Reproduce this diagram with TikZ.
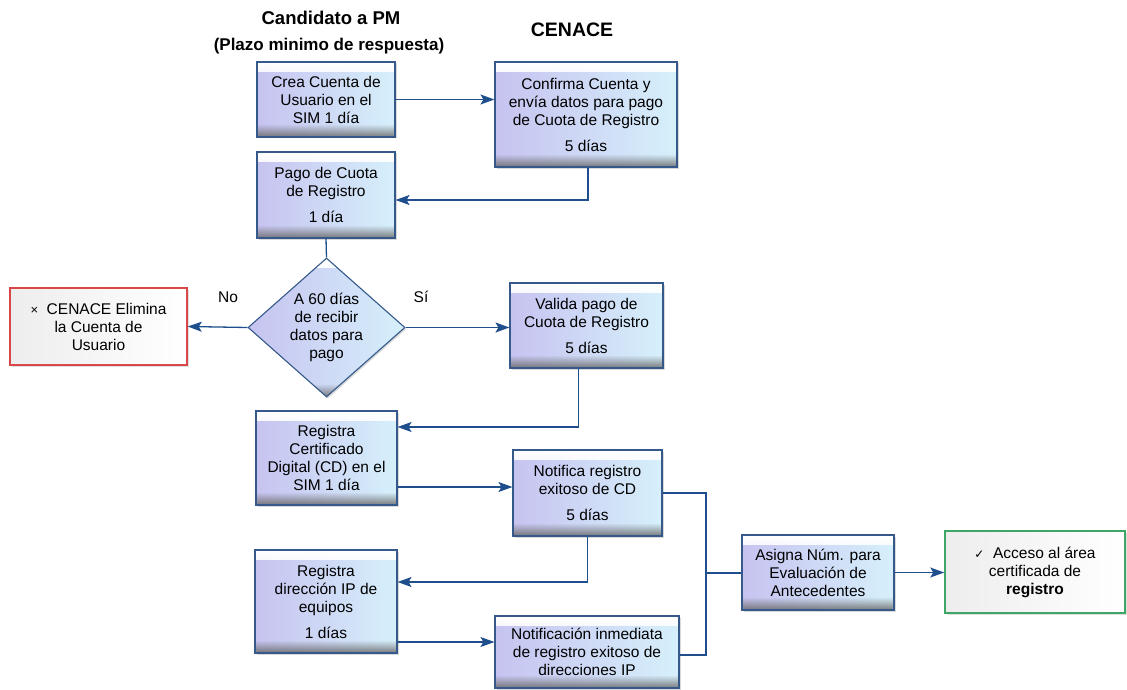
\documentclass[tikz,border=0pt]{standalone}
\usepackage{fontspec}
\setmainfont{Liberation Sans}
\newfontfamily\symfont{DejaVu Sans}
\usetikzlibrary{shapes.geometric,arrows.meta,shadows,fadings}
\definecolor{boxline}{HTML}{34598A}
\definecolor{arrowc}{HTML}{1F4E8C}
\definecolor{lav}{HTML}{C6C3F0}
\definecolor{cyanl}{HTML}{D6F0FB}
\definecolor{redb}{HTML}{D9474A}
\definecolor{greenb}{HTML}{3FA766}
\newcommand{\bxfont}{\fontsize{15.5}{18}\selectfont}
\begin{document}
\begin{tikzpicture}[x=1pt,y=-1pt,
  bevel/.style={path picture={
    \fill[white, path fading=south] (path picture bounding box.north west) rectangle ([yshift=-10pt]path picture bounding box.north east);
    \fill[gray!80!black, path fading=north, opacity=0.85] (path picture bounding box.south west) rectangle ([yshift=13pt]path picture bounding box.south east);
  }},
  box/.style={draw=boxline, line width=1.1pt, left color=lav, right color=cyanl, bevel,
    align=center, font=\bxfont, inner sep=3pt,
    drop shadow={shadow xshift=1.5pt, shadow yshift=-1.5pt, opacity=0.3}},
  dia/.style={diamond, aspect=1.13, draw=boxline, line width=1.1pt, left color=lav, right color=cyanl, bevel,
    align=center, font=\bxfont, inner sep=0pt,
    drop shadow={shadow xshift=1.5pt, shadow yshift=-1.5pt, opacity=0.3}},
  endbox/.style={line width=1.5pt, left color=gray!14, right color=white, align=center, font=\bxfont, inner sep=3pt,
    drop shadow={shadow xshift=1.5pt, shadow yshift=-1.5pt, opacity=0.25}},
  hdr/.style={font=\bfseries\fontsize{18.5}{20}\selectfont, inner sep=0pt},
  lbl/.style={font=\bxfont, inner sep=0pt},
  ln/.style={draw=arrowc, line width=1.3pt},
  arr/.style={ln, -{Stealth[length=14pt,width=10pt,inset=3pt]}}
]
\useasboundingbox (0,0) rectangle (1127,690);

% headers
\node[hdr] (h1) at (331,18) {Candidato a PM};
\node[hdr, font=\bfseries\fontsize{17}{20}\selectfont] (h2) at (329,46) {(Plazo minimo de respuesta)};
\node[hdr, font=\bfseries\fontsize{19.5}{20}\selectfont] (h3) at (572,30) {CENACE};

% boxes
\node[box, minimum width=138pt, minimum height=75pt] (crea) at (326,99.5) {Crea Cuenta de\\Usuario en el\\SIM 1 día};
\node[box, minimum width=182pt, minimum height=105pt] (conf) at (586,114.5) {Confirma Cuenta y\\envía datos para pago\\de Cuota de Registro\\[8pt]5 días};
\node[box, minimum width=138pt, minimum height=86pt] (pago) at (326,195) {Pago de Cuota\\de Registro\\[8pt]1 día};
\node[dia, minimum width=157pt, minimum height=139pt] (dec) at (326.5,327.5) {A 60 días\\de recibir\\datos para\\pago};
\node[endbox, draw=redb, minimum width=177pt, minimum height=77pt] (red) at (98.5,326.5) {{\fontsize{13}{13}\selectfont ×}\ \ CENACE Elimina\\la Cuenta de\\Usuario};
\node[box, minimum width=153pt, minimum height=85pt] (val) at (586.5,325.5) {Valida pago de\\Cuota de Registro\\[8pt]5 días};
\node[box, minimum width=141pt, minimum height=94pt] (rcd) at (326.5,458) {Registra\\Certificado\\Digital (CD) en el\\SIM 1 día};
\node[box, minimum width=149pt, minimum height=86pt] (ncd) at (587.5,493) {Notifica registro\\exitoso de CD\\[8pt]5 días};
\node[box, minimum width=142pt, minimum height=103pt] (rip) at (326,601.5) {Registra\\dirección IP de\\equipos\\[8pt]1 días};
\node[box, minimum width=184pt, minimum height=72pt] (ninm) at (587,652) {Notificación inmediata\\de registro exitoso de\\direcciones IP};
\node[box, minimum width=152pt, minimum height=75pt] (asig) at (818,572.5) {Asigna Núm. para\\Evaluación de\\Antecedentes};
\node[endbox, draw=greenb, minimum width=180pt, minimum height=82pt] (acc) at (1035,572) {{\symfont\fontsize{12}{12}\selectfont ✓}\ \ Acceso al área\\certificada de\\\textbf{registro}};

% labels
\node[lbl] (no) at (228,297) {No};
\node[lbl] (si) at (421,297) {Sí};

% connectors
\draw[arr] (crea.east) -- (crea.east -| conf.west);
\draw[arr] ([xshift=2pt]conf.south) |- ([yshift=-5pt]pago.east);
\draw[ln] (pago.south) -- (dec.north);
\draw[arr] (dec.west) -- (red.east);
\draw[arr] (dec.east) -- (dec.east -| val.west);
\draw[arr] ([xshift=-8pt]val.south) |- ([yshift=31pt]rcd.east);
\draw[arr] ([yshift=-29pt]rcd.east) -- ([yshift=-29pt]rcd.east -| ncd.west);
\draw[arr] (ncd.south) |- ([yshift=19.5pt]rip.east);
\draw[arr] ([yshift=-40.5pt]rip.east) -- ([yshift=-40.5pt]rip.east -| ninm.west);
\coordinate (jt) at (706,493);
\coordinate (jb) at (706,655);
\coordinate (jm) at (706,573);
\draw[ln] (ncd.east) -- (jt) -- (jb) -- (jb -| ninm.east);
\draw[ln] (jm) -- (jm -| asig.west);
\draw[arr] (asig.east) -- (asig.east -| acc.west);
\end{tikzpicture}
\end{document}
